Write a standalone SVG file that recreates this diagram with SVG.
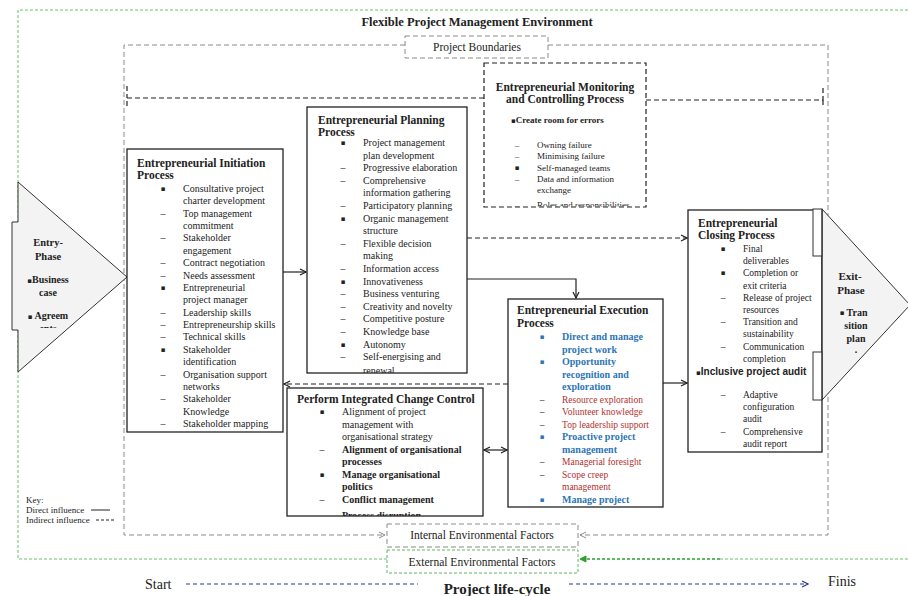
<svg xmlns="http://www.w3.org/2000/svg" width="908" height="596" viewBox="0 0 908 596">
<style>
text{font-family:"Liberation Serif","Times New Roman",serif;fill:#222}
.t{font-size:10px}
.s{font-size:9.5px}
.m{font-size:9px}
.h{font-size:11.5px;font-weight:bold}
.b{font-weight:bold}
.bu{font-family:"DejaVu Sans",sans-serif;font-size:7px}
.blue{fill:#2e75b6;font-weight:bold}
.red{fill:#b3302d}
.box{fill:#fff;stroke:#222;stroke-width:1.3}
.mon{fill:#fff;stroke:#222;stroke-width:1.2;stroke-dasharray:5 3}
.gdash{fill:none;stroke:#8a8a8a;stroke-width:1;stroke-dasharray:5 3}
.kdash{fill:none;stroke:#222;stroke-width:1.2;stroke-dasharray:5 3}
.grn{fill:none;stroke:#6cc06a;stroke-width:1;stroke-dasharray:3 2}
.solid{fill:none;stroke:#222;stroke-width:1.2}
.phase{fill:#f3f3f3;stroke:#333;stroke-width:1}
</style>
<defs>
<marker id="ah" viewBox="0 0 8 8" refX="7" refY="4" markerWidth="8" markerHeight="8" orient="auto-start-reverse" markerUnits="userSpaceOnUse"><path d="M1,1 L7,4 L1,7" fill="none" stroke="#222" stroke-width="1.2"/></marker>
<marker id="ahg" viewBox="0 0 8 8" refX="7" refY="4" markerWidth="8" markerHeight="8" orient="auto" markerUnits="userSpaceOnUse"><path d="M1,1 L7,4 L1,7" fill="none" stroke="#8a8a8a" stroke-width="1"/></marker>
<marker id="ahgr" viewBox="0 0 8 8" refX="7" refY="4" markerWidth="8" markerHeight="8" orient="auto" markerUnits="userSpaceOnUse"><path d="M1,1 L7,4 L1,7 z" fill="#2e9e2e" stroke="#2e9e2e" stroke-width="1"/></marker>
<marker id="ahn" viewBox="0 0 8 8" refX="7" refY="4" markerWidth="8" markerHeight="8" orient="auto" markerUnits="userSpaceOnUse"><path d="M1,1 L7,4 L1,7" fill="none" stroke="#283c8f" stroke-width="1.2"/></marker>
<clipPath id="cEntry"><rect x="0" y="0" width="140" height="328"/></clipPath>
<clipPath id="cPlan"><rect x="307" y="107" width="160" height="266"/></clipPath>
<clipPath id="cMon"><rect x="484" y="63" width="162" height="143.5"/></clipPath>
<clipPath id="cCC"><rect x="287" y="388" width="196" height="128"/></clipPath>
</defs>

<g id="environment">
<path class="grn" d="M908 10 H18 V559 H387"/>
<path class="grn" d="M720 559 H908"/>
<path d="M720 559 H580" fill="none" stroke="#2e9e2e" stroke-width="1.3" stroke-dasharray="3 2" marker-end="url(#ahgr)"/>
<text x="477" y="26" text-anchor="middle" class="b" style="font-size:12.5px">Flexible Project Management Environment</text>
</g>

<g id="project-boundaries">
<path class="gdash" d="M405 45 H124 V535 H385" marker-end="url(#ahg)"/>
<path class="gdash" d="M548 45 H828 V535 H580" marker-end="url(#ahg)"/>
<rect class="gdash" x="405" y="36" width="143" height="22"/>
<text x="477" y="51" text-anchor="middle" style="font-size:11.5px">Project Boundaries</text>
</g>

<g id="monitoring-bracket">
<path class="kdash" d="M127 106 V98 H484"/>
<path class="kdash" d="M127 86 V98"/>
<path class="kdash" d="M646 100 H823 V88"/>
<path class="kdash" d="M823 100 V108"/>
</g>

<g id="entry-phase">
<polygon class="phase" points="18,182 127,277 18,372 18,330 12,330 12,222 18,222"/>
<g clip-path="url(#cEntry)" text-anchor="middle" class="b" style="font-size:10.5px">
<text x="48" y="246">Entry-</text>
<text x="48" y="260">Phase</text>
<text x="48" y="283" style="font-size:10px"><tspan class="bu">▪</tspan>Business</text>
<text x="48" y="296" style="font-size:10px">case</text>
<text x="48" y="319" style="font-size:10px"><tspan class="bu">▪</tspan> Agreem</text>
<text x="48" y="332" style="font-size:10px">ents</text>
</g>
</g>

<g id="initiation">
<rect class="box" x="127" y="149" width="156" height="283"/>
<text x="137" y="167" class="h">Entrepreneurial Initiation</text>
<text x="137" y="179" class="h">Process</text>
<g class="t">
<text x="163" y="191" text-anchor="middle" class="bu">▪</text><text x="183" y="192">Consultative project</text>
<text x="183" y="204">charter development</text>
<text x="163" y="217" text-anchor="middle">–</text><text x="183" y="217">Top management</text>
<text x="183" y="229">commitment</text>
<text x="163" y="241" text-anchor="middle">–</text><text x="183" y="241">Stakeholder</text>
<text x="183" y="254">engagement</text>
<text x="163" y="266" text-anchor="middle">–</text><text x="183" y="266">Contract negotiation</text>
<text x="163" y="279" text-anchor="middle">–</text><text x="183" y="279">Needs assessment</text>
<text x="163" y="290" text-anchor="middle" class="bu">▪</text><text x="183" y="291">Entrepreneurial</text>
<text x="183" y="303">project manager</text>
<text x="163" y="316" text-anchor="middle">–</text><text x="183" y="316">Leadership skills</text>
<text x="163" y="328" text-anchor="middle">–</text><text x="183" y="328">Entrepreneurship skills</text>
<text x="163" y="340" text-anchor="middle">–</text><text x="183" y="340">Technical skills</text>
<text x="163" y="352" text-anchor="middle" class="bu">▪</text><text x="183" y="353">Stakeholder</text>
<text x="183" y="365">identification</text>
<text x="163" y="378" text-anchor="middle">–</text><text x="183" y="378">Organisation support</text>
<text x="183" y="390">networks</text>
<text x="163" y="402" text-anchor="middle">–</text><text x="183" y="402">Stakeholder</text>
<text x="183" y="415">Knowledge</text>
<text x="163" y="427" text-anchor="middle">–</text><text x="183" y="427">Stakeholder mapping</text>
</g>
</g>

<g id="planning">
<rect class="box" x="307" y="107" width="160" height="266"/>
<text x="318" y="124" class="h">Entrepreneurial Planning</text>
<text x="318" y="136" class="h">Process</text>
<g class="t" clip-path="url(#cPlan)">
<text x="343" y="145" text-anchor="middle" class="bu">▪</text><text x="363" y="146">Project management</text>
<text x="363" y="158.6">plan development</text>
<text x="343" y="171.2" text-anchor="middle">–</text><text x="363" y="171.2">Progressive elaboration</text>
<text x="343" y="183.8" text-anchor="middle">–</text><text x="363" y="183.8">Comprehensive</text>
<text x="363" y="196.4">information gathering</text>
<text x="343" y="209" text-anchor="middle">–</text><text x="363" y="209">Participatory planning</text>
<text x="343" y="220.6" text-anchor="middle" class="bu">▪</text><text x="363" y="221.6">Organic management</text>
<text x="363" y="234.2">structure</text>
<text x="343" y="246.8" text-anchor="middle">–</text><text x="363" y="246.8">Flexible decision</text>
<text x="363" y="259.4">making</text>
<text x="343" y="272" text-anchor="middle">–</text><text x="363" y="272">Information access</text>
<text x="343" y="283.6" text-anchor="middle" class="bu">▪</text><text x="363" y="284.6">Innovativeness</text>
<text x="343" y="297.2" text-anchor="middle">–</text><text x="363" y="297.2">Business venturing</text>
<text x="343" y="309.8" text-anchor="middle">–</text><text x="363" y="309.8">Creativity and novelty</text>
<text x="343" y="322.4" text-anchor="middle">–</text><text x="363" y="322.4">Competitive posture</text>
<text x="343" y="335" text-anchor="middle">–</text><text x="363" y="335">Knowledge base</text>
<text x="343" y="346.6" text-anchor="middle" class="bu">▪</text><text x="363" y="347.6">Autonomy</text>
<text x="343" y="360.2" text-anchor="middle">–</text><text x="363" y="360.2">Self-energising and</text>
<text x="363" y="374">renewal</text>
</g>
</g>

<g id="monitoring">
<rect class="mon" x="484" y="63" width="162" height="144"/>
<text x="565" y="91" class="h" text-anchor="middle">Entrepreneurial Monitoring</text>
<text x="565" y="103" class="h" text-anchor="middle">and Controlling Process</text>
<g class="m" clip-path="url(#cMon)">
<text x="511" y="123" class="b"><tspan class="bu">▪</tspan>Create room for errors</text>
<text x="517" y="148" text-anchor="middle">–</text><text x="537" y="148">Owning failure</text>
<text x="517" y="159" text-anchor="middle">–</text><text x="537" y="159">Minimising failure</text>
<text x="517" y="170" text-anchor="middle" class="bu">▪</text><text x="537" y="171">Self-managed teams</text>
<text x="517" y="182" text-anchor="middle">–</text><text x="537" y="182">Data and information</text>
<text x="537" y="193">exchange</text>
<text x="517" y="208" text-anchor="middle">–</text><text x="537" y="208">Roles and responsibilities</text>
</g>
</g>

<g id="execution">
<rect class="box" x="508" y="299" width="155" height="208"/>
<text x="517" y="314" class="h">Entrepreneurial Execution</text>
<text x="517" y="327" class="h">Process</text>
<g class="t">
<text x="542" y="339" text-anchor="middle" class="bu" style="fill:#2e75b6">▪</text><text x="562" y="340" class="blue">Direct and manage</text>
<text x="562" y="352.5" class="blue">project work</text>
<text x="542" y="364" text-anchor="middle" class="bu" style="fill:#2e75b6">▪</text><text x="562" y="365" class="blue">Opportunity</text>
<text x="562" y="377.5" class="blue">recognition and</text>
<text x="562" y="390" class="blue">exploration</text>
<g class="s">
<text x="542" y="402.5" text-anchor="middle">–</text><text x="562" y="402.5" class="red">Resource exploration</text>
<text x="542" y="415" text-anchor="middle">–</text><text x="562" y="415" class="red">Volunteer knowledge</text>
<text x="542" y="427.5" text-anchor="middle">–</text><text x="562" y="427.5" class="red">Top leadership support</text>
</g>
<text x="542" y="439" text-anchor="middle" class="bu" style="fill:#2e75b6">▪</text><text x="562" y="440" class="blue">Proactive project</text>
<text x="562" y="452.5" class="blue">management</text>
<g class="s">
<text x="542" y="465" text-anchor="middle">–</text><text x="562" y="465" class="red">Managerial foresight</text>
<text x="542" y="477.5" text-anchor="middle">–</text><text x="562" y="477.5" class="red">Scope creep</text>
<text x="562" y="490" class="red">management</text>
</g>
<text x="542" y="501.5" text-anchor="middle" class="bu" style="fill:#2e75b6">▪</text><text x="562" y="502.5" class="blue">Manage project</text>
</g>
</g>

<g id="closing">
<rect class="box" x="688" y="210" width="134" height="242"/>
<text x="698" y="227" class="h">Entrepreneurial</text>
<text x="698" y="239" class="h">Closing Process</text>
<g class="s">
<text x="723" y="251" text-anchor="middle" class="bu">▪</text><text x="743" y="252">Final</text>
<text x="743" y="264.2">deliverables</text>
<text x="723" y="275.4" text-anchor="middle" class="bu">▪</text><text x="743" y="276.4">Completion or</text>
<text x="743" y="288.6">exit criteria</text>
<text x="723" y="300.8" text-anchor="middle">–</text><text x="743" y="300.8">Release of project</text>
<text x="743" y="313">resources</text>
<text x="723" y="325.2" text-anchor="middle">–</text><text x="743" y="325.2">Transition and</text>
<text x="743" y="337.4">sustainability</text>
<text x="723" y="349.6" text-anchor="middle">–</text><text x="743" y="349.6">Communication</text>
<text x="743" y="361.8">completion</text>
<text x="696" y="375" style="font-family:'Liberation Sans',Arial,sans-serif;font-size:10px;font-weight:bold"><tspan class="bu">▪</tspan>Inclusive project audit</text>
<text x="723" y="398" text-anchor="middle">–</text><text x="743" y="398">Adaptive</text>
<text x="743" y="410.2">configuration</text>
<text x="743" y="422.4">audit</text>
<text x="723" y="434.6" text-anchor="middle">–</text><text x="743" y="434.6">Comprehensive</text>
<text x="743" y="446.8">audit report</text>
</g>
</g>

<g id="exit-phase">
<polygon class="phase" points="822,209 910,305 822,400"/>
<path d="M813 209 L822 218" fill="none" stroke="#333" stroke-width="1"/>
<rect x="813" y="209" width="9" height="47" fill="#fff" stroke="#333" stroke-width="1"/>
<rect x="813" y="352" width="9" height="48" fill="#fff" stroke="#333" stroke-width="1"/>
<line x1="822" y1="209" x2="822" y2="400" stroke="#333" stroke-width="1"/>
<g class="b" text-anchor="middle" style="font-size:11px">
<text x="850" y="280">Exit-</text>
<text x="851" y="294">Phase</text>
<text x="842" y="315" class="bu">▪</text>
<text x="857" y="316" style="font-size:10px">Tran</text>
<text x="856" y="329" style="font-size:10px">sition</text>
<text x="856" y="342" style="font-size:10px">plan</text>
<text x="856" y="353" style="font-size:10px">.</text>
</g>
</g>

<g id="change-control">
<rect class="box" x="287" y="388" width="196" height="128"/>
<text x="297" y="403" class="h">Perform Integrated Change Control</text>
<g class="t" clip-path="url(#cCC)">
<text x="322" y="414" text-anchor="middle" class="bu">▪</text><text x="342" y="415">Alignment of project</text>
<text x="342" y="427.5">management with</text>
<text x="342" y="440">organisational strategy</text>
<text x="322" y="453" text-anchor="middle">–</text><text x="342" y="453" class="b">Alignment of organisational</text>
<text x="342" y="465" class="b">processes</text>
<text x="322" y="477" text-anchor="middle" class="bu">▪</text><text x="342" y="478" class="b">Manage organisational</text>
<text x="342" y="490" class="b">politics</text>
<text x="322" y="503" text-anchor="middle">–</text><text x="342" y="503" class="b">Conflict management</text>
<text x="322" y="519" text-anchor="middle">–</text><text x="342" y="519" class="b">Process disruption</text>
</g>
</g>

<g id="internal-factors">
<rect class="gdash" x="387" y="524" width="191" height="23"/>
<text x="482" y="539" text-anchor="middle" style="font-size:11.5px">Internal Environmental Factors</text>
</g>
<g id="external-factors">
<rect x="387" y="550" width="191" height="23" fill="#fff" stroke="#5cb85c" stroke-width="1" stroke-dasharray="3 2"/>
<text x="482" y="566" text-anchor="middle" style="font-size:11.5px">External Environmental Factors</text>
</g>

<g id="connectors">
<path class="solid" d="M283 272 H306" marker-end="url(#ah)"/>
<path class="solid" d="M467 279 H576 V298" marker-end="url(#ah)"/>
<path class="kdash" d="M467 238 H687" marker-end="url(#ah)"/>
<path class="solid" d="M663 383 H687" marker-end="url(#ah)"/>
<path class="kdash" d="M508 384 H284" marker-end="url(#ah)"/>
<path class="solid" d="M484 450 H507" marker-start="url(#ah)" marker-end="url(#ah)"/>
</g>

<g id="key">
<text x="26" y="503" class="m">Key:</text>
<text x="26" y="513" class="m">Direct influence</text>
<line x1="91" y1="510" x2="110" y2="510" stroke="#222" stroke-width="1"/>
<text x="26" y="523" class="m">Indirect influence</text>
<line x1="96" y1="520" x2="115" y2="520" stroke="#222" stroke-width="1" stroke-dasharray="3 2"/>
</g>

<g id="lifecycle">
<text x="145" y="589" style="font-size:14px">Start</text>
<path d="M186 584 H418" fill="none" stroke="#283c8f" stroke-width="1.1" stroke-dasharray="4 3"/>
<text x="497" y="594" text-anchor="middle" class="b" style="font-size:15px">Project life-cycle</text>
<path d="M569 584 H808" fill="none" stroke="#283c8f" stroke-width="1.1" stroke-dasharray="4 3" marker-end="url(#ahn)"/>
<text x="828" y="586" style="font-size:14px">Finis</text>
</g>
</svg>
